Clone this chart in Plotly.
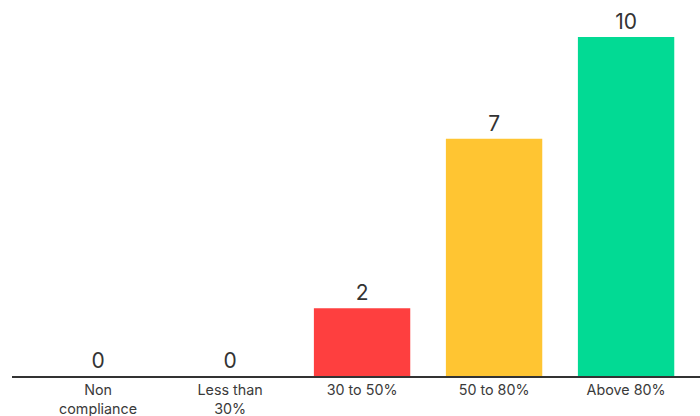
import plotly.graph_objects as go

categories = ["Non<br>compliance", "Less than<br>30%", "30 to 50%", "50 to 80%", "Above 80%"]
values = [0, 0, 2, 7, 10]
colors = ["#FE3F3F", "#FE3F3F", "#FE3F3F", "#FFC532", "#02DA94"]

fig = go.Figure(go.Bar(
    x=categories, y=values,
    marker=dict(color=colors, line=dict(width=0)),
    width=0.73,
    text=[str(v) for v in values],
    textposition="outside",
    textfont=dict(size=21, color="#333333", family="Inter"),
    cliponaxis=False,
))

fig.update_layout(
    width=700, height=416,
    margin=dict(l=12, r=0, t=0, b=40),
    paper_bgcolor="white", plot_bgcolor="white",
    showlegend=False,
    font=dict(family="Inter", color="#3a3a3a"),
)
fig.update_xaxes(
    range=[-0.652, 4.56],
    automargin=False,
    showline=True, linecolor="#333333", linewidth=2,
    ticks="", tickfont=dict(size=14.3, color="#3a3a3a"),
    showgrid=False,
)
fig.update_yaxes(
    range=[0, 11.09], visible=False, showgrid=False, zeroline=False,
)

fig.write_html("out.html")
